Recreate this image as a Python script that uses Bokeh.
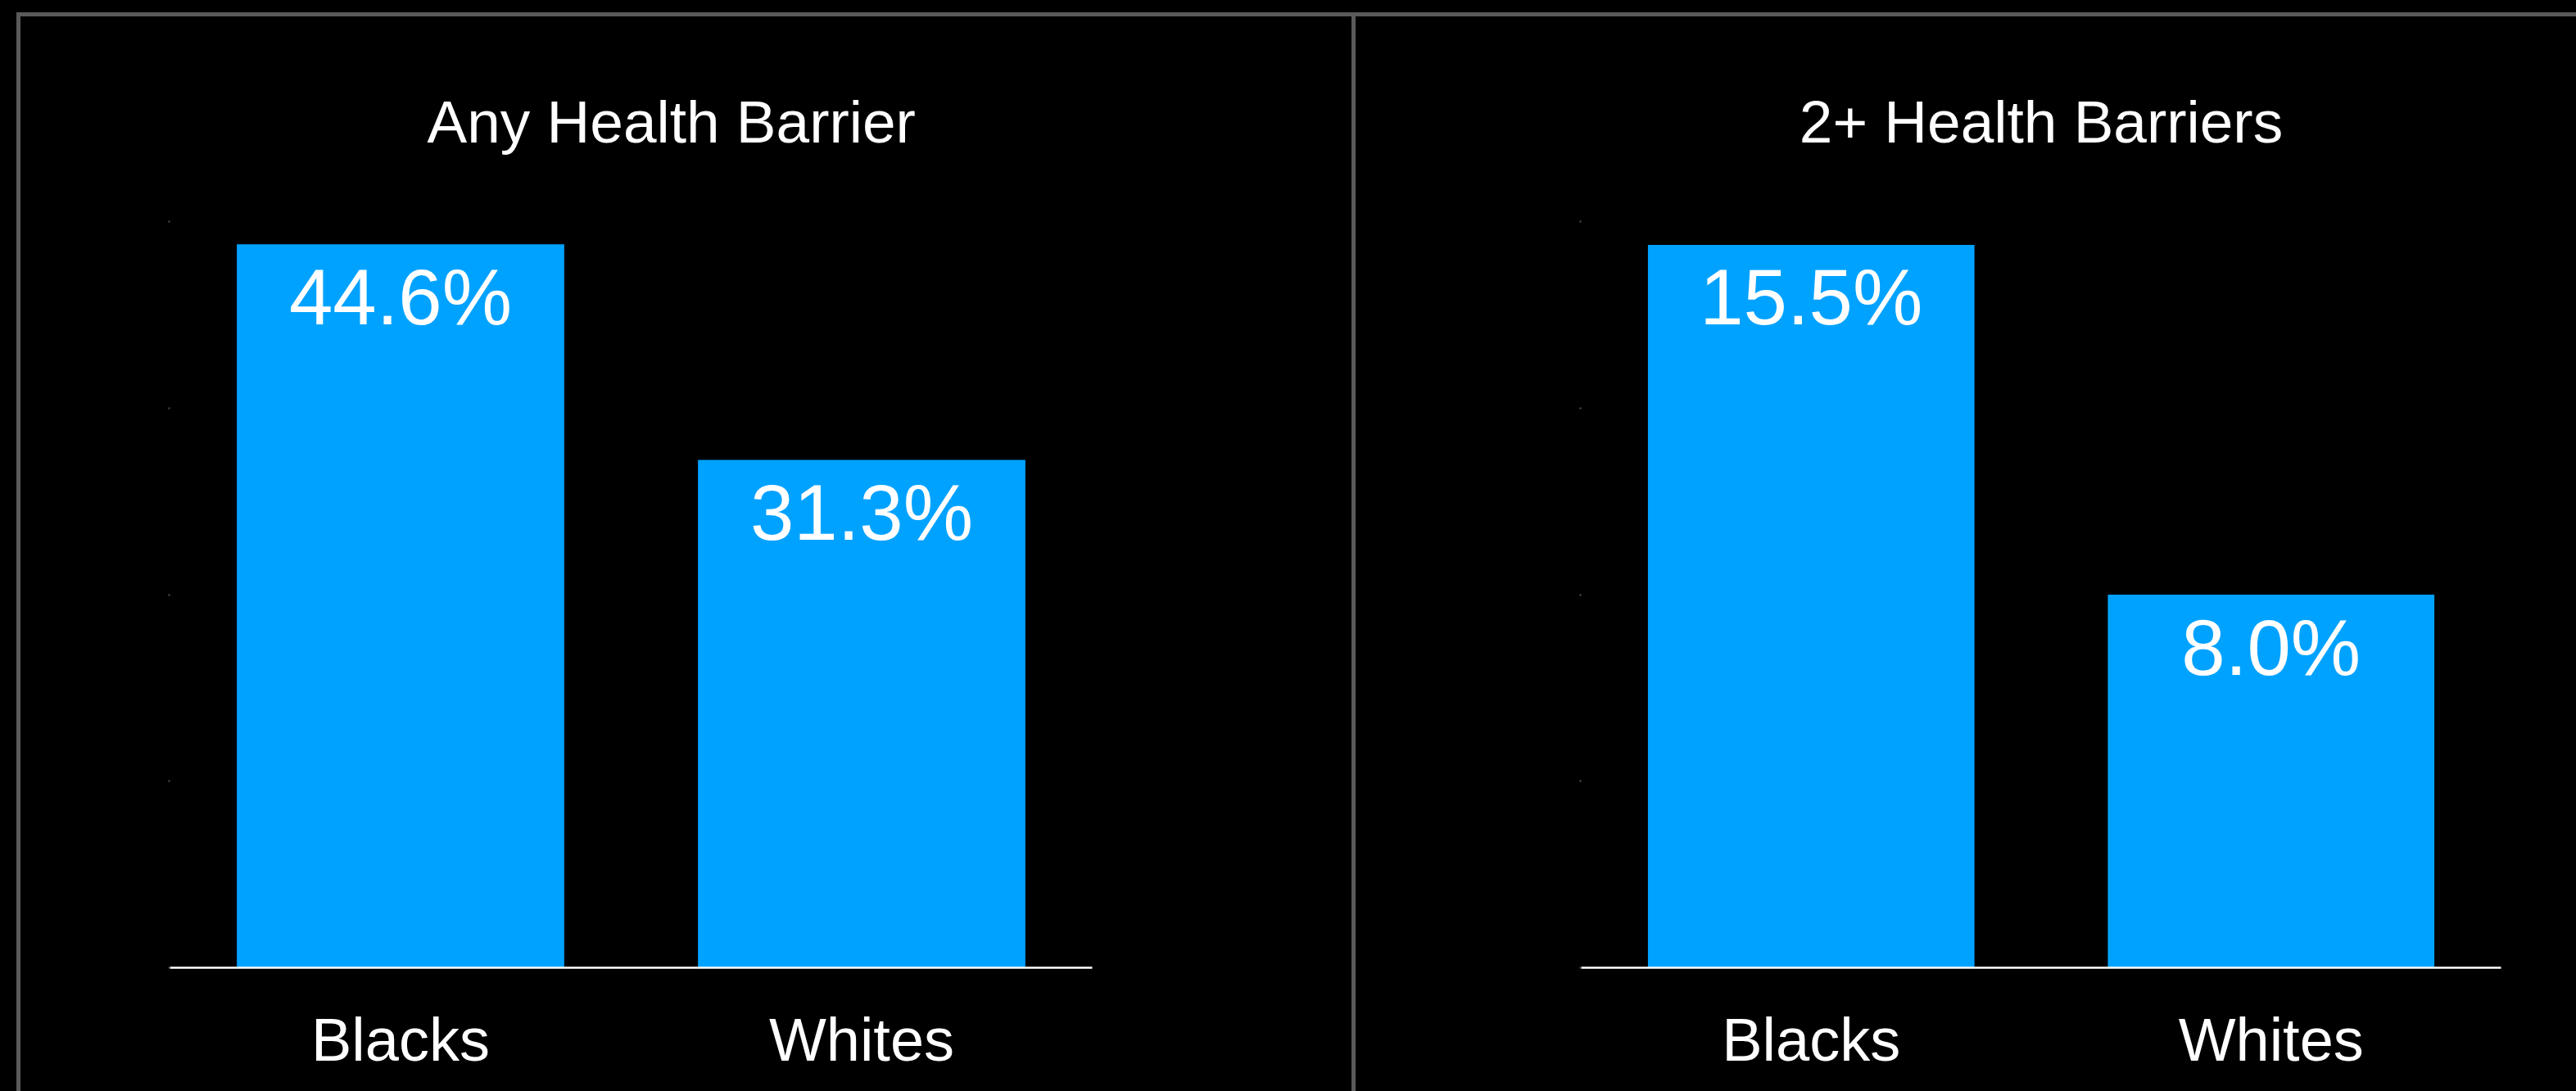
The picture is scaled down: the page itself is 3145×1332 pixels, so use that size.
from bokeh.plotting import figure
from bokeh.models import Range1d, FactorRange, FixedTicker, Div, ColumnDataSource
from bokeh.layouts import row, column
from bokeh.core.properties import value
from bokeh.embed import file_html
from bokeh.resources import INLINE

# ---- data ----
categories = ["Blacks", "Whites"]
any_barrier = [44.6, 31.3]
two_plus_barriers = [15.5, 8.0]
titles = ["Any Health Barrier", "2+ Health Barriers"]
y_max_left = 46
y_max_right = 16
y_ticks_left = [0, 11.5, 23, 34.5, 46]
y_ticks_right = [0, 4, 8, 12, 16]

BLUE = "#00A2FF"
GRAY = "#5a5a5a"
FONT = "Liberation Sans"
PANEL_H = 1312
BLACK_BG = {"background-color": "#000000"}


def make_panel(title, vals, ymax, ticks, width, bl, br, align, offset):
    p = figure(width=width, height=PANEL_H,
               x_range=FactorRange(factors=categories),
               y_range=Range1d(0, ymax),
               output_backend="svg", toolbar_location=None,
               min_border_left=bl, min_border_right=br,
               min_border_top=250, min_border_bottom=151,
               background_fill_color="black", border_fill_color="black",
               outline_line_color=None, styles=BLACK_BG)
    p.outline_line_color = None
    p.title.text = title
    p.title.text_font = FONT
    p.title.text_font_size = "73px"
    p.title.text_font_style = "normal"
    p.title.text_color = "white"
    p.title.align = align
    p.title.offset = offset
    p.title.vertical_align = "bottom"
    p.title.standoff = 164

    src = ColumnDataSource(dict(x=categories, top=vals,
                                label=[f"{v:.1f}%" for v in vals]))
    p.vbar(x="x", top="top", width=0.71, source=src,
           fill_color=BLUE, line_color=None)
    p.text(x="x", y="top", text="label", source=src,
           text_align="center", text_baseline="alphabetic", y_offset=64,
           text_color="white", text_font=value(FONT), text_font_size="96px")

    p.xgrid.visible = False
    p.ygrid.visible = False

    xa = p.xaxis[0]
    xa.axis_line_color = "#ffffff"
    xa.axis_line_width = 2.5
    xa.major_tick_line_color = None
    xa.minor_tick_line_color = None
    xa.major_label_text_color = "white"
    xa.major_label_text_font = FONT
    xa.major_label_text_font_size = "74px"
    xa.major_label_standoff = 40

    ya = p.yaxis[0]
    ya.ticker = FixedTicker(ticks=ticks)
    ya.axis_line_color = None
    ya.major_tick_line_color = "#555555"
    ya.major_tick_line_width = 2
    ya.major_tick_in = 0
    ya.major_tick_out = 2
    ya.minor_tick_line_color = None
    ya.major_label_overrides = {t: "" for t in ticks}
    return p


p1 = make_panel(titles[0], any_barrier, y_max_left, y_ticks_left,
                1625, 182, 317, "left", 314)
p2 = make_panel(titles[1], two_plus_barriers, y_max_right, y_ticks_right,
                1490, 275, 92, "center", 0)


def block(w, h, color):
    return Div(text="", width=w, height=h, margin=0,
               styles={"background-color": color})


layout = column(
    block(3145, 15, "#000000"),
    row(block(20, 5, "#000000"), block(3125, 5, GRAY), styles=BLACK_BG),
    row(block(20, PANEL_H, "#000000"), block(5, PANEL_H, GRAY), p1,
        block(5, PANEL_H, GRAY), p2, styles=BLACK_BG),
    styles=BLACK_BG,
)

open("out.html", "w").write(file_html(layout, INLINE))
